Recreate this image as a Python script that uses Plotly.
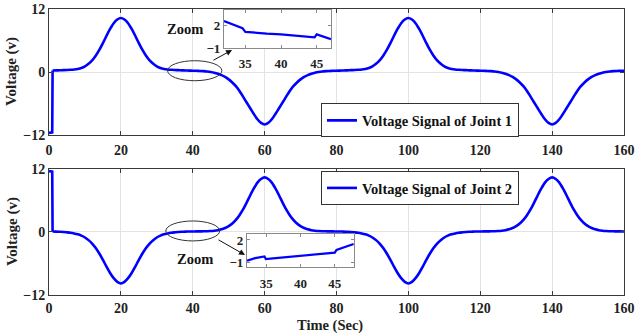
import plotly.graph_objects as go

# ---------------- data ----------------
time_start = [0, 0.9, 1]
time_main = list(range(1, 161))
time_ticks = [0, 20, 40, 60, 80, 100, 120, 140, 160]
volt_ticks = [-12, 0, 12]

joint1_start = [-11.6, -11.5, 0.30]
joint1 = [0.30, 0.31, 0.33, 0.35, 0.38, 0.42, 0.48, 0.58, 0.75, 1.05,
          1.55, 2.2, 3.1, 4.2, 5.5, 6.9, 8.2, 9.3, 10.0, 10.3,
          10.0, 9.3, 8.2, 6.9, 5.5, 4.2, 3.1, 2.2, 1.55, 1.05,
          0.75, 0.58, 0.48, 0.42, 0.38, 0.35, 0.32, 0.29, 0.27, 0.25,
          0.23, 0.2, 0.16, 0.1, 0.0, -0.15, -0.35, -0.6, -0.95, -1.4,
          -2.0, -2.7, -3.6, -4.7, -5.8, -6.9, -8.0, -9.0, -9.7, -10.0,
          -9.7, -9.0, -8.0, -6.9, -5.8, -4.7, -3.6, -2.7, -2.0, -1.4,
          -0.95, -0.6, -0.35, -0.15, 0.0, 0.1, 0.16, 0.2, 0.23, 0.25,
          0.27, 0.29, 0.32, 0.35, 0.38, 0.42, 0.48, 0.58, 0.75, 1.05,
          1.55, 2.2, 3.1, 4.2, 5.5, 6.9, 8.2, 9.3, 10.0, 10.3,
          10.0, 9.3, 8.2, 6.9, 5.5, 4.2, 3.1, 2.2, 1.55, 1.05,
          0.75, 0.58, 0.48, 0.42, 0.38, 0.35, 0.32, 0.29, 0.27, 0.25,
          0.23, 0.2, 0.16, 0.1, 0.0, -0.15, -0.35, -0.6, -0.95, -1.4,
          -2.0, -2.7, -3.6, -4.7, -5.8, -6.9, -8.0, -9.0, -9.7, -10.0,
          -9.7, -9.0, -8.0, -6.9, -5.8, -4.7, -3.6, -2.7, -2.0, -1.4,
          -0.95, -0.6, -0.35, -0.15, 0.0, 0.1, 0.16, 0.2, 0.23, 0.25]

joint2_start = [11.6, 11.5, 0.09]
joint2 = [0.09, 0.07, 0.04, 0.0, -0.07, -0.15, -0.28, -0.45, -0.7, -1.05,
          -1.55, -2.2, -3.05, -4.1, -5.3, -6.6, -7.8, -8.8, -9.5, -9.8,
          -9.5, -8.8, -7.8, -6.6, -5.3, -4.1, -3.05, -2.2, -1.55, -1.05,
          -0.7, -0.45, -0.28, -0.15, -0.07, 0.0, 0.04, 0.07, 0.09, 0.1,
          0.11, 0.12, 0.13, 0.15, 0.19, 0.25, 0.35, 0.5, 0.75, 1.1,
          1.6, 2.3, 3.2, 4.3, 5.6, 7.0, 8.3, 9.4, 10.1, 10.4,
          10.1, 9.4, 8.3, 7.0, 5.6, 4.3, 3.2, 2.3, 1.6, 1.1,
          0.75, 0.5, 0.35, 0.25, 0.19, 0.15, 0.13, 0.12, 0.11, 0.1,
          0.09, 0.07, 0.04, 0.0, -0.07, -0.15, -0.28, -0.45, -0.7, -1.05,
          -1.55, -2.2, -3.05, -4.1, -5.3, -6.6, -7.8, -8.8, -9.5, -9.8,
          -9.5, -8.8, -7.8, -6.6, -5.3, -4.1, -3.05, -2.2, -1.55, -1.05,
          -0.7, -0.45, -0.28, -0.15, -0.07, 0.0, 0.04, 0.07, 0.09, 0.1,
          0.11, 0.12, 0.13, 0.15, 0.19, 0.25, 0.35, 0.5, 0.75, 1.1,
          1.6, 2.3, 3.2, 4.3, 5.6, 7.0, 8.3, 9.4, 10.1, 10.4,
          10.1, 9.4, 8.3, 7.0, 5.6, 4.3, 3.2, 2.3, 1.6, 1.1,
          0.75, 0.5, 0.35, 0.25, 0.19, 0.15, 0.13, 0.12, 0.11, 0.1]

zoom1_t = [32, 33, 34, 34.6, 35.0, 36, 38, 40, 42, 44, 44.7, 45.0, 45.6, 46.3, 47]
zoom1_v = [2.56, 2.2, 1.85, 1.6, 1.13, 1.02, 0.9, 0.79, 0.65, 0.5, 0.4, 0.79, 0.6, 0.4, 0.17]
zoom2_t = [32.2, 33.4, 34.75, 34.95, 36, 38, 40, 42, 44, 45.0, 45.25, 46, 47, 47.75]
zoom2_v = [-0.77, -0.42, -0.2, -0.55, -0.46, -0.29, -0.12, 0.06, 0.23, 0.32, 0.68, 0.9, 1.2, 1.47]
zoom_xticks = [35, 40, 45]
zoom_yticks = [-1, 2]
zoom1_xrange = [32, 47]
zoom1_yrange = [-1, 4]
zoom2_xrange = [32.2, 47.8]
zoom2_yrange = [-1.6, 2.8]

legend1_name = "Voltage Signal of Joint 1"
legend2_name = "Voltage Signal of Joint 2"

# ---------------- style ----------------
FONT = "Liberation Serif"
BLUE = "#0000ff"
AX = "#3a3a3a"
GRID = "#e3e3e3"

fig = go.Figure()
# initial step (straight segments)
fig.add_trace(go.Scatter(x=time_start, y=joint1_start, mode="lines",
                         line=dict(color=BLUE, width=2.6), showlegend=False,
                         hoverinfo="skip", xaxis="x", yaxis="y"))
fig.add_trace(go.Scatter(x=time_start, y=joint2_start, mode="lines",
                         line=dict(color=BLUE, width=2.6), showlegend=False,
                         hoverinfo="skip", xaxis="x2", yaxis="y2"))
# main signals
fig.add_trace(go.Scatter(x=time_main, y=joint1, mode="lines",
                         line=dict(color=BLUE, width=2.6, shape="spline", smoothing=0.8),
                         name=legend1_name, xaxis="x", yaxis="y", legend="legend"))
fig.add_trace(go.Scatter(x=time_main, y=joint2, mode="lines",
                         line=dict(color=BLUE, width=2.6, shape="spline", smoothing=0.8),
                         name=legend2_name, xaxis="x2", yaxis="y2", legend="legend2"))


def panel(xr, yr):
    return [xr[0], xr[1], xr[1], xr[0], xr[0]], [yr[0], yr[0], yr[1], yr[1], yr[0]]


# white panels behind insets (cover main grid)
px, py = panel(zoom1_xrange, zoom1_yrange)
fig.add_trace(go.Scatter(x=px, y=py, fill="toself", fillcolor="white", mode="none",
                         showlegend=False, hoverinfo="skip", xaxis="x3", yaxis="y3"))
px, py = panel(zoom2_xrange, zoom2_yrange)
fig.add_trace(go.Scatter(x=px, y=py, fill="toself", fillcolor="white", mode="none",
                         showlegend=False, hoverinfo="skip", xaxis="x4", yaxis="y4"))

fig.add_trace(go.Scatter(x=zoom1_t, y=zoom1_v, mode="lines", line=dict(color=BLUE, width=2.2),
                         showlegend=False, xaxis="x3", yaxis="y3"))
fig.add_trace(go.Scatter(x=zoom2_t, y=zoom2_v, mode="lines", line=dict(color=BLUE, width=2.2),
                         showlegend=False, xaxis="x4", yaxis="y4"))

tickfont = dict(family=FONT, size=14, color="#222", weight="bold")
main_ax = dict(showline=True, linecolor=AX, linewidth=1, mirror="ticks", ticks="inside",
               ticklen=4, tickcolor=AX, showgrid=True, gridcolor=GRID, gridwidth=1,
               zeroline=False, tickfont=tickfont, automargin=False)
inset_ax = dict(showline=True, linecolor="#8a8a8a", linewidth=1, mirror="ticks", ticks="inside",
                ticklen=3, tickcolor="#8a8a8a", showgrid=False, zeroline=False, automargin=False,
                tickfont=dict(family=FONT, size=13, color="#222", weight="bold"))

top_dom = [0.5594, 1.0]
bot_dom = [0.0, 0.4406]

fig.update_layout(
    width=635, height=333,
    margin=dict(l=49, r=11, t=9, b=38, autoexpand=False),
    paper_bgcolor="white", plot_bgcolor="white",
    xaxis=dict(domain=[0, 1], anchor="y", range=[0, 160], tickvals=time_ticks,
               ticklabelstandoff=2, **main_ax),
    yaxis=dict(domain=top_dom, anchor="x", range=[-12, 12], tickvals=volt_ticks, **main_ax),
    xaxis2=dict(domain=[0, 1], anchor="y2", range=[0, 160], tickvals=time_ticks, **main_ax),
    yaxis2=dict(domain=bot_dom, anchor="x2", range=[-12, 12], tickvals=volt_ticks, **main_ax),
    xaxis3=dict(domain=[0.3043, 0.4904], anchor="y3", range=zoom1_xrange, tickvals=zoom_xticks,
                ticklabelstandoff=3, **inset_ax),
    yaxis3=dict(domain=[0.8636, 0.9965], anchor="x3", range=zoom1_yrange, tickvals=zoom_yticks, **inset_ax),
    xaxis4=dict(domain=[0.3443, 0.5304], anchor="y4", range=zoom2_xrange, tickvals=zoom_xticks,
                ticklabelstandoff=4, **inset_ax),
    yaxis4=dict(domain=[0.0979, 0.2133], anchor="x4", range=zoom2_yrange, tickvals=zoom_yticks, **inset_ax),
    legend=dict(x=0.473, y=0.6696, xanchor="left", yanchor="top", bgcolor="white",
                bordercolor="#333", borderwidth=1, itemwidth=30,
                font=dict(family=FONT, size=14.5, color="#111", weight="bold")),
    legend2=dict(x=0.473, y=0.4336, xanchor="left", yanchor="top", bgcolor="white",
                 bordercolor="#333", borderwidth=1, itemwidth=30,
                 font=dict(family=FONT, size=14.5, color="#111", weight="bold")),
    showlegend=True,
)

# ellipses
fig.add_shape(type="circle", xref="x", yref="y", x0=33.0, x1=48.1, y0=-1.66, y1=2.15,
              line=dict(color="#333", width=1))
fig.add_shape(type="circle", xref="x2", yref="y2", x0=32.5, x1=47.5, y0=-1.7, y1=2.1,
              line=dict(color="#333", width=1))

title_font = dict(family=FONT, size=15, color="#222", weight="bold")
ann = [
    dict(text="Voltage (v)", x=-0.0643, y=0.78, xref="paper", yref="paper", textangle=-90,
         showarrow=False, font=title_font, xanchor="center", yanchor="middle"),
    dict(text="Voltage (v)", x=-0.0643, y=0.22, xref="paper", yref="paper", textangle=-90,
         showarrow=False, font=title_font, xanchor="center", yanchor="middle"),
    dict(text="Time (Sec)", x=0.4887, y=-0.1049, xref="paper", yref="paper",
         showarrow=False, font=dict(family=FONT, size=14.5, color="#222", weight="bold"),
         xanchor="center", yanchor="middle"),
    dict(text="Zoom", x=0.2365, y=0.930, xref="paper", yref="paper", showarrow=False,
         font=dict(family=FONT, size=14.5, color="#111", weight="bold"), xanchor="center", yanchor="middle"),
    dict(text="Zoom", x=0.2539, y=0.1259, xref="paper", yref="paper", showarrow=False,
         font=dict(family=FONT, size=14.5, color="#111", weight="bold"), xanchor="center", yanchor="middle"),
    dict(text="", x=0.3183, y=0.8566, xref="paper", yref="paper", showarrow=True,
         ax=-20, ay=11, arrowhead=2, arrowsize=1.2, arrowwidth=1, arrowcolor="#111"),
    dict(text="", x=0.3409, y=0.1399, xref="paper", yref="paper", showarrow=True,
         ax=-28, ay=-16, arrowhead=2, arrowsize=1.2, arrowwidth=1, arrowcolor="#111"),
]
fig.update_layout(annotations=ann)

fig.write_html("out.html", config={"displayModeBar": False},
               post_script="document.body.style.margin='0px';")
